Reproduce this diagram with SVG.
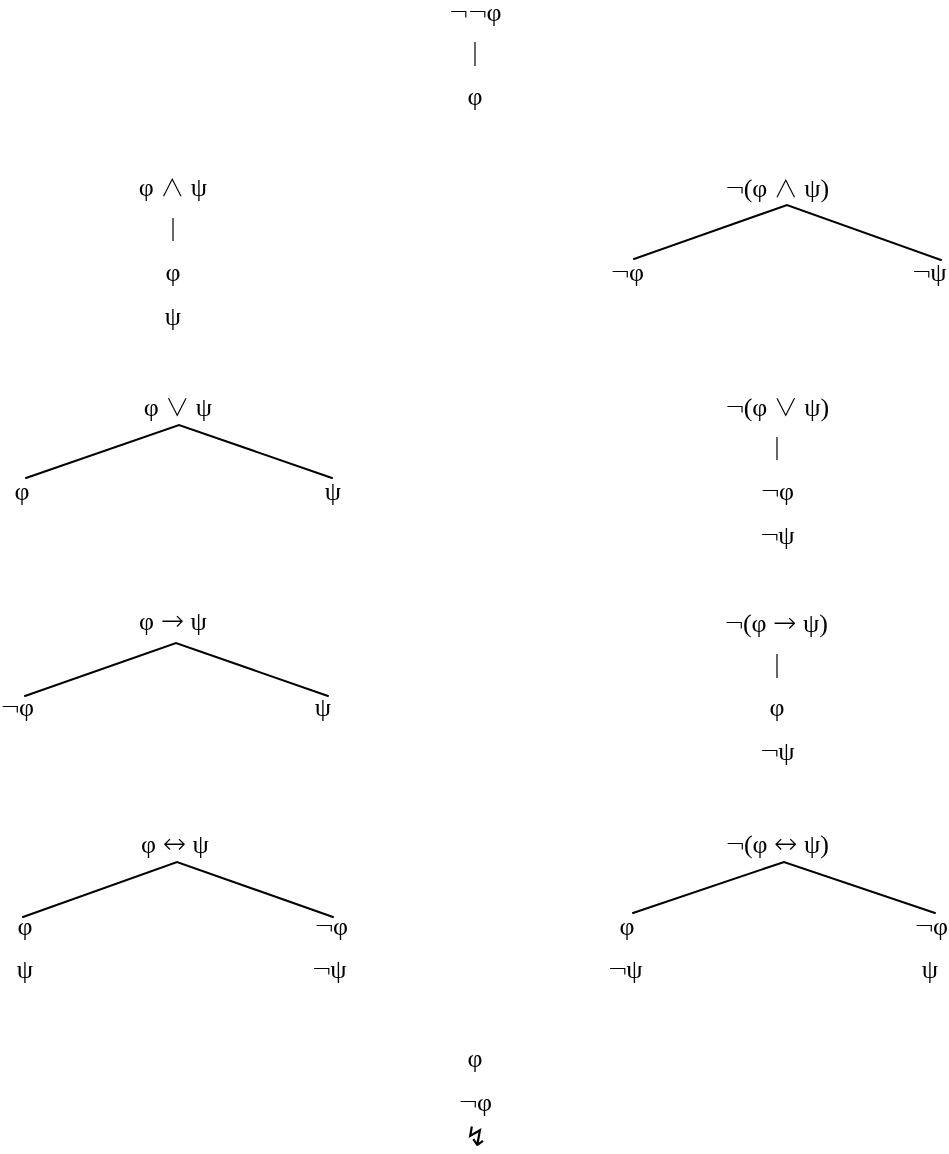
<svg xmlns="http://www.w3.org/2000/svg" width="949" height="1154" viewBox="0 0 949 1154">
  <style>
    text { font-family: "Liberation Serif", "DejaVu Serif", serif; font-size: 26px; fill: #000; text-anchor: middle; }
    .op { font-family: "DejaVu Sans", "Noto Sans CJK JP", sans-serif; font-weight: 200; font-size: 24px; }
    .neg { font-family: "DejaVu Sans", "Noto Sans CJK JP", sans-serif; font-weight: 200; font-size: 25px; letter-spacing: -2px; }
    .arr { font-family: "DejaVu Sans", "Noto Sans CJK JP", sans-serif; font-weight: 200; font-size: 28px; }
    .bolt { font-family: "DejaVu Sans", sans-serif; font-size: 27px; }
    .edge { stroke: #000; stroke-width: 2; fill: none; stroke-linecap: round; }
    .bar { stroke: #000; stroke-width: 1.2; fill: none; }
  </style>
  <defs>
    <!-- render labels through an offscreen pass for plain grey antialiasing -->
    <filter id="flat" x="0" y="0" width="1" height="1">
      <feOffset dx="0" dy="0"/>
    </filter>
  </defs>
  <rect width="949" height="1154" fill="#fff"/>

  <!-- branch lines and stems -->
  <g id="connectors">
    <line class="bar" x1="475" y1="42" x2="475" y2="66"/>
    <line class="bar" x1="173" y1="218" x2="173" y2="241"/>
    <polyline class="edge" points="634,259 787,205 941,260"/>
    <polyline class="edge" points="26,478 179,425 332,478"/>
    <line class="bar" x1="777" y1="437" x2="777" y2="460"/>
    <polyline class="edge" points="25,696 176,643 328,696"/>
    <line class="bar" x1="777" y1="654" x2="777" y2="678"/>
    <polyline class="edge" points="23,917 177,862 333,917"/>
    <polyline class="edge" points="633,913 784,862 935,913"/>
  </g>

  <g filter="url(#flat)">
    <g id="double-negation">
      <text x="475" y="21"><tspan class="neg">¬¬</tspan>φ</text>
      <text x="475" y="105">φ</text>
    </g>

    <g id="conjunction">
      <text x="173" y="196">φ <tspan class="op">∧</tspan> ψ</text>
      <text x="173" y="281">φ</text>
      <text x="173" y="325">ψ</text>
    </g>

    <g id="negated-conjunction">
      <text x="777" y="197"><tspan class="neg">¬</tspan>(φ <tspan class="op">∧</tspan> ψ)</text>
      <text x="627" y="281"><tspan class="neg">¬</tspan>φ</text>
      <text x="929" y="281"><tspan class="neg">¬</tspan>ψ</text>
    </g>

    <g id="disjunction">
      <text x="178" y="416">φ <tspan class="op">∨</tspan> ψ</text>
      <text x="22" y="500">φ</text>
      <text x="333" y="500">ψ</text>
    </g>

    <g id="negated-disjunction">
      <text x="777" y="416"><tspan class="neg">¬</tspan>(φ <tspan class="op">∨</tspan> ψ)</text>
      <text x="777" y="500"><tspan class="neg">¬</tspan>φ</text>
      <text x="777" y="544"><tspan class="neg">¬</tspan>ψ</text>
    </g>

    <g id="implication">
      <text x="173" y="630">φ <tspan class="arr">→</tspan> ψ</text>
      <text x="17" y="716"><tspan class="neg">¬</tspan>φ</text>
      <text x="323" y="716">ψ</text>
    </g>

    <g id="negated-implication">
      <text x="776" y="632"><tspan class="neg">¬</tspan>(φ <tspan class="arr">→</tspan> ψ)</text>
      <text x="777" y="716">φ</text>
      <text x="777" y="760"><tspan class="neg">¬</tspan>ψ</text>
    </g>

    <g id="biconditional">
      <text x="175" y="853">φ <tspan class="arr">↔</tspan> ψ</text>
      <text x="25" y="935">φ</text>
      <text x="331" y="935"><tspan class="neg">¬</tspan>φ</text>
      <text x="25" y="978">ψ</text>
      <text x="329" y="978"><tspan class="neg">¬</tspan>ψ</text>
    </g>

    <g id="negated-biconditional">
      <text x="777" y="853"><tspan class="neg">¬</tspan>(φ <tspan class="arr">↔</tspan> ψ)</text>
      <text x="627" y="935">φ</text>
      <text x="931" y="935"><tspan class="neg">¬</tspan>φ</text>
      <text x="625" y="978"><tspan class="neg">¬</tspan>ψ</text>
      <text x="930" y="978">ψ</text>
    </g>

    <g id="contradiction">
      <text x="475" y="1067">φ</text>
      <text x="475" y="1111"><tspan class="neg">¬</tspan>φ</text>
      <text class="bolt" x="476" y="1146">↯</text>
    </g>
  </g>
</svg>
